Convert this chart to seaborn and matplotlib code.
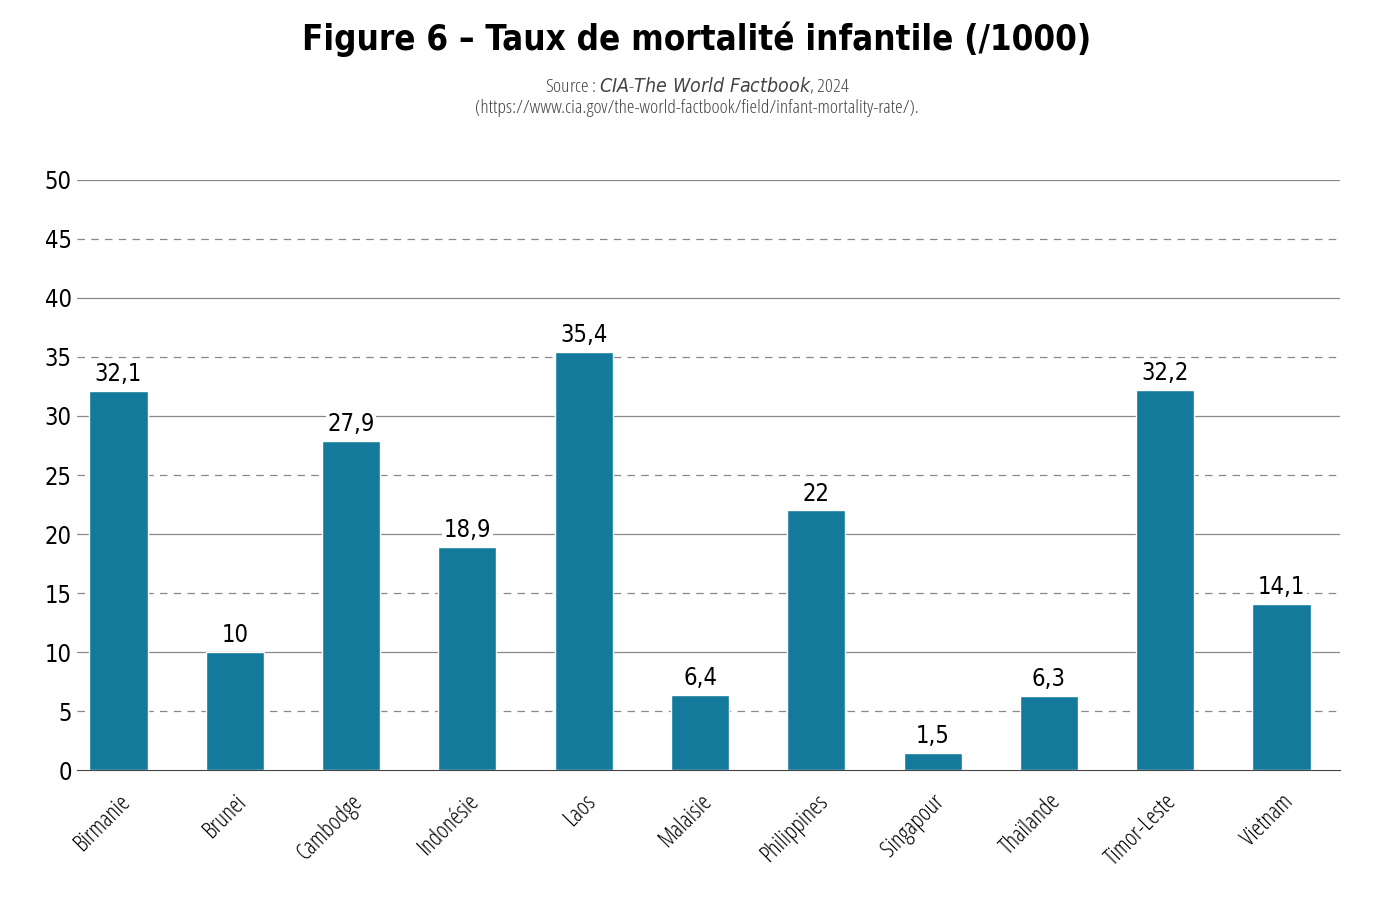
import matplotlib.pyplot as plt
import pandas as pd
import seaborn as sns

pays = ['Birmanie', 'Brunei', 'Cambodge', 'Indonésie', 'Laos', 'Malaisie', 'Philippines',
        'Singapour', 'Thaïlande', 'Timor-Leste', 'Vietnam']
taux = [32.1, 10, 27.9, 18.9, 35.4, 6.4, 22, 1.5, 6.3, 32.2, 14.1]
etiquettes = ['32,1', '10', '27,9', '18,9', '35,4', '6,4', '22', '1,5', '6,3', '32,2', '14,1']

df = pd.DataFrame({'Pays': pays, 'Taux': taux})

sns.set_style('white')
plt.rcParams['font.family'] = ['DejaVu Sans']
plt.rcParams['font.stretch'] = 'condensed'
plt.rcParams['text.color'] = 'black'
plt.rcParams['ytick.color'] = 'black'
plt.rcParams['xtick.color'] = 'black'

# Plot the bars
fig = plt.figure(figsize=(13.94, 9.17), dpi=100)
ax = fig.add_axes([0.055, 0.160, 0.906, 0.644])
for y in range(5, 50, 10):
    ax.axhline(y, color='#888888', lw=0.9, ls=(0, (6, 5)), zorder=0)
for y in range(10, 51, 10):
    ax.axhline(y, color='#888888', lw=0.9, zorder=0)
sns.barplot(data=df, x='Pays', y='Taux', color='#137a9c', width=0.5, saturation=1, ax=ax, zorder=2)
for i, (v, lab) in enumerate(zip(taux, etiquettes)):
    ax.text(i, v + 0.4, lab, ha='center', va='bottom', fontsize=17, stretch='condensed',
            bbox=dict(facecolor='white', edgecolor='none', pad=1), zorder=3)
ax.set_ylim(0, 50)
ax.set_xlim(-0.36, 10.5)
ax.set_yticks(range(0, 51, 5))
ax.tick_params(axis='y', labelsize=17, length=0)
ax.tick_params(axis='x', length=0, pad=14)
ax.set_xticks(range(len(pays)))
ax.set_xticklabels(pays, rotation=45, ha='right', rotation_mode='anchor',
                   fontsize=17, family='Open Sans')
ax.set_xlabel('')
ax.set_ylabel('')
sns.despine(ax=ax, left=True)
ax.spines['bottom'].set_color('#444444')

fig.text(0.5, 0.945, 'Figure 6 – Taux de mortalité infantile (/1000)', ha='center',
         fontsize=25, fontweight='bold', stretch='condensed')
fig.text(0.5, 0.900, 'Source : $\\it{CIA}$-$\\it{The\\ World\\ Factbook}$, 2024', ha='center',
         fontsize=14, family='Open Sans', color='#444444')
fig.text(0.5, 0.877, '(https://www.cia.gov/the-world-factbook/field/infant-mortality-rate/).',
         ha='center', fontsize=14, family='Open Sans', color='#444444')
fig.savefig('out.png', dpi=100)
